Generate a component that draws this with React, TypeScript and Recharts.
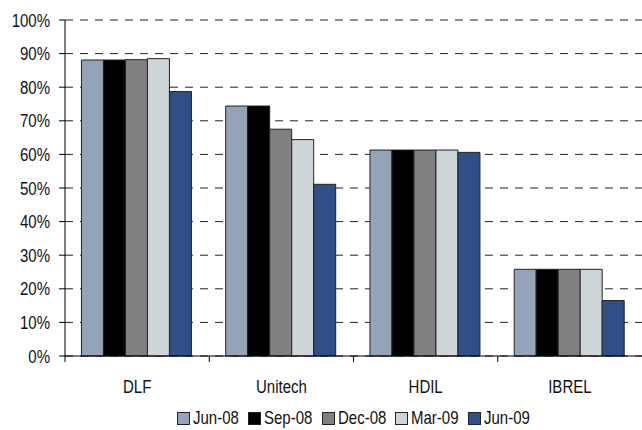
import { BarChart, Bar, XAxis, YAxis, CartesianGrid, Legend } from 'recharts';

const companies = ['DLF', 'Unitech', 'HDIL', 'IBREL'];

const jun08 = [88.1, 74.4, 61.3, 25.8];
const sep08 = [88.1, 74.4, 61.3, 25.8];
const dec08 = [88.2, 67.5, 61.3, 25.8];
const mar09 = [88.5, 64.4, 61.3, 25.8];
const jun09 = [78.7, 51.1, 60.6, 16.5];

const yTicks = [0, 10, 20, 30, 40, 50, 60, 70, 80, 90, 100];

const SERIES = [
  { key: 'jun08', name: 'Jun-08', values: jun08, color: '#95a3b9' },
  { key: 'sep08', name: 'Sep-08', values: sep08, color: '#000000' },
  { key: 'dec08', name: 'Dec-08', values: dec08, color: '#808080' },
  { key: 'mar09', name: 'Mar-09', values: mar09, color: '#cdd5d8' },
  { key: 'jun09', name: 'Jun-09', values: jun09, color: '#2f4f87' },
];

const data = companies.map((name, i) => {
  const row: Record<string, string | number> = { name };
  SERIES.forEach(s => {
    row[s.key] = s.values[i];
  });
  return row;
});

// no narrow font installed, so squeeze Liberation Sans horizontally
const FONT = '"Liberation Sans", Arial, sans-serif';
const FONT_SIZE = 19;
const SQUEEZE = 0.79;
const WIDTH = 642;
const HEIGHT = 430;
const Y_AXIS_W = 65;
const BAND = (WIDTH - Y_AXIS_W) / companies.length;

let measureCtx: CanvasRenderingContext2D | null = null;
function textWidth(s: string) {
  if (!measureCtx) {
    measureCtx = document.createElement('canvas').getContext('2d');
  }
  if (!measureCtx) return s.length * 10;
  measureCtx.font = `${FONT_SIZE}px ${FONT}`;
  return measureCtx.measureText(s).width;
}

function NarrowText({ x, y, anchor, children }: { x: number; y: number; anchor: 'start' | 'middle' | 'end'; children: any }) {
  return (
    <g transform={`translate(${x},${y}) scale(${SQUEEZE},1)`}>
      <text x={0} y={0} textAnchor={anchor} fontSize={FONT_SIZE} fontFamily={FONT} fill="#111">
        {children}
      </text>
    </g>
  );
}

// category label plus a tick mark at the left edge of each band
function CategoryTick(props: any) {
  const { x, y, payload } = props;
  const half = payload && payload.offset ? payload.offset : BAND / 2;
  return (
    <g>
      <line x1={x - half} y1={y} x2={x - half} y2={y + 6} stroke="#000" />
      <NarrowText x={x} y={y + 36.5} anchor="middle">{payload.value}</NarrowText>
    </g>
  );
}

function PercentTick(props: any) {
  const { x, y, payload } = props;
  return <NarrowText x={x} y={y + 6.5} anchor="end">{`${payload.value}%`}</NarrowText>;
}

// legend is centred under the plot area, not the whole chart
function LegendContent() {
  return (
    <div
      style={{
        display: 'flex',
        justifyContent: 'center',
        alignItems: 'center',
        height: 24,
        paddingLeft: Y_AXIS_W,
        boxSizing: 'border-box',
        fontFamily: FONT,
        fontSize: FONT_SIZE,
        color: '#111',
      }}
    >
      {SERIES.map((s, i) => (
        <div key={s.key} style={{ display: 'flex', alignItems: 'center', marginRight: i < SERIES.length - 1 ? 9 : 0 }}>
          <span
            style={{
              display: 'inline-block',
              width: 11,
              height: 11,
              background: s.color,
              border: '1px solid #222',
              marginRight: 3,
            }}
          />
          <span style={{ display: 'inline-block', width: textWidth(s.name) * SQUEEZE, whiteSpace: 'nowrap' }}>
            <span style={{ display: 'inline-block', transform: `scaleX(${SQUEEZE})`, transformOrigin: 'left center' }}>
              {s.name}
            </span>
          </span>
        </div>
      ))}
    </div>
  );
}

export default function App() {
  return (
    <div style={{ position: 'absolute', left: 0, top: 0, width: WIDTH, height: HEIGHT, background: '#fff' }}>
      <BarChart
        width={WIDTH}
        height={HEIGHT}
        data={data}
        margin={{ top: 20, right: 0, bottom: 0, left: 0 }}
        barCategoryGap="11.4%"
        barGap={0}
      >
        <CartesianGrid
          horizontal
          vertical={false}
          stroke="#222"
          strokeDasharray="8 7"
        />
        <XAxis
          dataKey="name"
          height={50}
          axisLine={{ stroke: '#000' }}
          tickLine={false}
          tickSize={0}
          tickMargin={0}
          tick={<CategoryTick />}
          interval={0}
        />
        <YAxis
          width={Y_AXIS_W}
          domain={[0, 100]}
          ticks={yTicks}
          interval={0}
          axisLine={{ stroke: '#000' }}
          tickLine={{ stroke: '#000' }}
          tickSize={6}
          tickMargin={9}
          tick={<PercentTick />}
        />
        <Legend verticalAlign="bottom" height={24} content={<LegendContent />} />
        {SERIES.map(s => (
          <Bar
            key={s.key}
            dataKey={s.key}
            name={s.name}
            fill={s.color}
            stroke="#222"
            strokeWidth={1}
            isAnimationActive={false}
          />
        ))}
      </BarChart>
    </div>
  );
}
